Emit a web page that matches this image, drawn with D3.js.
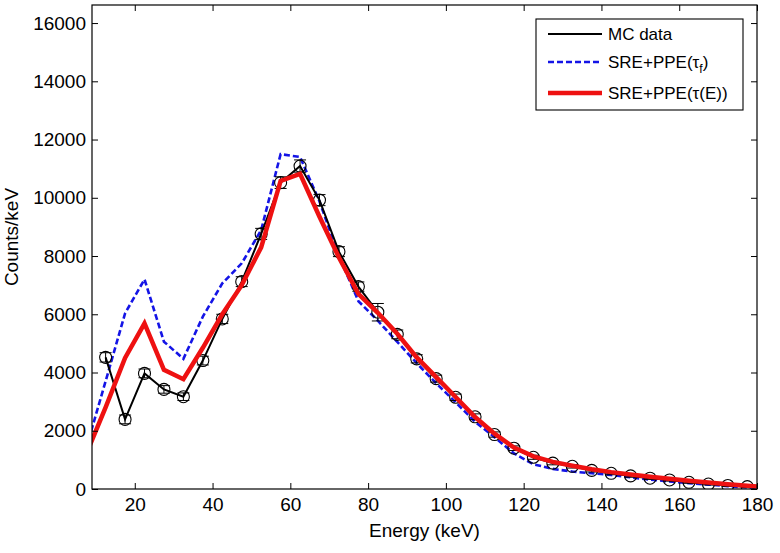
<!DOCTYPE html>
<html>
<head>
<meta charset="utf-8">
<script src="https://cdn.jsdelivr.net/npm/d3@7"></script>
<style>
  html, body { margin: 0; padding: 0; background: #fff; }
  svg { display: block; font-family: "Liberation Sans", Arial, Helvetica, sans-serif; }
</style>
</head>
<body>
<svg id="chart" width="780" height="553"></svg>
<script>
// ---------- data ----------
const mcEnergies = [12.5, 17.5, 22.5, 27.5, 32.5, 37.5, 42.5, 47.5, 52.5, 57.5, 62.5, 67.5,
  72.5, 77.5, 82.5, 87.5, 92.5, 97.5, 102.5, 107.5, 112.5, 117.5, 122.5, 127.5, 132.5,
  137.5, 142.5, 147.5, 152.5, 157.5, 162.5, 167.5, 172.5, 177.5];
const mcCounts = [4520, 2390, 3970, 3420, 3170, 4410, 5840, 7120, 8760, 10520, 11090, 9920,
  8150, 6950, 6070, 5310, 4470, 3790, 3150, 2480, 1870, 1400, 1090, 890, 780,
  640, 540, 450, 370, 310, 230, 170, 120, 80];
const mcErrors = [160, 150, 150, 130, 130, 150, 160, 170, 190, 200, 210, 190,
  170, 160, 300, 150, 140, 120, 110, 100, 90, 80, 70, 60, 60,
  55, 50, 45, 40, 40, 35, 30, 30, 25];

const modelEnergies = [7.5, 12.5, 17.5, 22.5, 27.5, 32.5, 37.5, 42.5, 47.5, 52.5, 57.5, 62.5,
  67.5, 72.5, 77.5, 82.5, 87.5, 92.5, 97.5, 102.5, 107.5, 112.5, 117.5, 122.5, 127.5,
  132.5, 137.5, 142.5, 147.5, 152.5, 157.5, 162.5, 167.5, 172.5, 177.5, 182.5];
const sreTauF = [1400, 3700, 6030, 7200, 5060, 4470, 5920, 7060, 7750, 8890, 11500, 11400,
  9870, 8000, 6450, 5780, 5050, 4320, 3630, 2980, 2310, 1780, 1220, 850, 690,
  600, 540, 480, 400, 320, 260, 200, 150, 100, 50, 20];
const sreTauE = [1200, 2800, 4500, 5690, 4090, 3770, 4850, 6000, 7000, 8300, 10580, 10820,
  9350, 7950, 6700, 6050, 5330, 4520, 3840, 3160, 2470, 1900, 1420, 1120, 930,
  800, 680, 580, 500, 420, 350, 280, 220, 160, 110, 60];

const xTicks = [20, 40, 60, 80, 100, 120, 140, 160, 180];
const yTicks = [0, 2000, 4000, 6000, 8000, 10000, 12000, 14000, 16000];
const legendLabels = ["MC data", "SRE+PPE(τ", "SRE+PPE(τ(E))"];

// ---------- layout ----------
const svg = d3.select("#chart");
const L = 92, R = 757, T = 5, B = 489;
const x = d3.scaleLinear().domain([9, 180]).range([L, R]);
const y = d3.scaleLinear().domain([0, 16620]).range([B, T]);

svg.append("defs").append("clipPath").attr("id", "clip")
  .append("rect").attr("x", L).attr("y", T).attr("width", R - L).attr("height", B - T);

const plot = svg.append("g").attr("clip-path", "url(#clip)");

const line = d3.line().x(d => x(d[0])).y(d => y(d[1]));

// blue dashed model
plot.append("path")
  .datum(modelEnergies.map((e, i) => [e, sreTauF[i]]))
  .attr("d", line).attr("fill", "none")
  .attr("stroke", "#1414e6").attr("stroke-width", 2.6)
  .attr("stroke-dasharray", "6,3");

// MC data line
plot.append("path")
  .datum(mcEnergies.map((e, i) => [e, mcCounts[i]]))
  .attr("d", line).attr("fill", "none")
  .attr("stroke", "#000").attr("stroke-width", 2);

// error bars + circles
const mc = plot.append("g").selectAll("g").data(mcEnergies.map((e, i) => ({e, c: mcCounts[i], s: mcErrors[i]})))
  .join("g");
mc.append("line")
  .attr("x1", d => x(d.e)).attr("x2", d => x(d.e))
  .attr("y1", d => y(d.c - d.s)).attr("y2", d => y(d.c + d.s))
  .attr("stroke", "#000").attr("stroke-width", 1);
[-1, 1].forEach(sgn => {
  mc.append("line")
    .attr("x1", d => x(d.e) - 6).attr("x2", d => x(d.e) + 6)
    .attr("y1", d => y(d.c + sgn * d.s)).attr("y2", d => y(d.c + sgn * d.s))
    .attr("stroke", "#000").attr("stroke-width", 1);
});
mc.append("circle")
  .attr("cx", d => x(d.e)).attr("cy", d => y(d.c)).attr("r", 6)
  .attr("fill", "none").attr("stroke", "#000").attr("stroke-width", 1.1);

// red model
plot.append("path")
  .datum(modelEnergies.map((e, i) => [e, sreTauE[i]]))
  .attr("d", line).attr("fill", "none")
  .attr("stroke", "#ee1111").attr("stroke-width", 4.5)
  .attr("stroke-linejoin", "miter");

// ---------- axes ----------
const fs = 19;
const axB = svg.append("g").attr("transform", `translate(0,${B})`)
  .call(d3.axisBottom(x).tickValues(xTicks).tickFormat(d3.format("d")).tickSize(-6).tickPadding(9));
const axT = svg.append("g").attr("transform", `translate(0,${T})`)
  .call(d3.axisTop(x).tickValues(xTicks).tickFormat("").tickSize(-6));
const axL = svg.append("g").attr("transform", `translate(${L},0)`)
  .call(d3.axisLeft(y).tickValues(yTicks).tickFormat(d3.format("d")).tickSize(-6).tickPadding(6));
const axR = svg.append("g").attr("transform", `translate(${R},0)`)
  .call(d3.axisRight(y).tickValues(yTicks).tickFormat("").tickSize(-6));
[axB, axT, axL, axR].forEach(a => {
  a.select(".domain").remove();
  a.selectAll("line").attr("stroke", "#000").attr("stroke-width", 1);
  a.selectAll("text").attr("font-size", fs).attr("fill", "#000")
    .attr("font-family", "'Liberation Sans', Arial, sans-serif");
});
svg.append("rect").attr("x", L).attr("y", T).attr("width", R - L).attr("height", B - T)
  .attr("fill", "none").attr("stroke", "#000").attr("stroke-width", 1.2);

// axis labels
svg.append("text").attr("x", (L + R) / 2).attr("y", 537).attr("text-anchor", "middle")
  .attr("font-size", fs).text("Energy (keV)");
svg.append("text").attr("transform", `translate(18,${(T + B) / 2 - 10}) rotate(-90)`)
  .attr("text-anchor", "middle").attr("font-size", fs).text("Counts/keV");

// ---------- legend ----------
const lg = svg.append("g");
lg.append("rect").attr("x", 536).attr("y", 19).attr("width", 207).attr("height", 91)
  .attr("fill", "#fff").attr("stroke", "#000").attr("stroke-width", 1.1);
const rows = [34, 62, 93];
const styles = [
  {c: "#000", w: 2, d: null},
  {c: "#1414e6", w: 2.6, d: "6,3"},
  {c: "#ee1111", w: 4.5, d: null}
];
rows.forEach((ry, i) => {
  lg.append("line").attr("x1", 548).attr("x2", 602).attr("y1", ry).attr("y2", ry)
    .attr("stroke", styles[i].c).attr("stroke-width", styles[i].w)
    .attr("stroke-dasharray", styles[i].d);
});
const lfs = 17;
lg.append("text").attr("x", 608).attr("y", rows[0] + 6).attr("font-size", lfs).text(legendLabels[0]);
const t2 = lg.append("text").attr("x", 608).attr("y", rows[1] + 6).attr("font-size", lfs);
t2.append("tspan").text(legendLabels[1]);
t2.append("tspan").attr("font-size", 12).attr("dy", 5).text("f");
t2.append("tspan").attr("dy", -5).text(")");
lg.append("text").attr("x", 608).attr("y", rows[2] + 6).attr("font-size", lfs).text(legendLabels[2]);
</script>
</body>
</html>
